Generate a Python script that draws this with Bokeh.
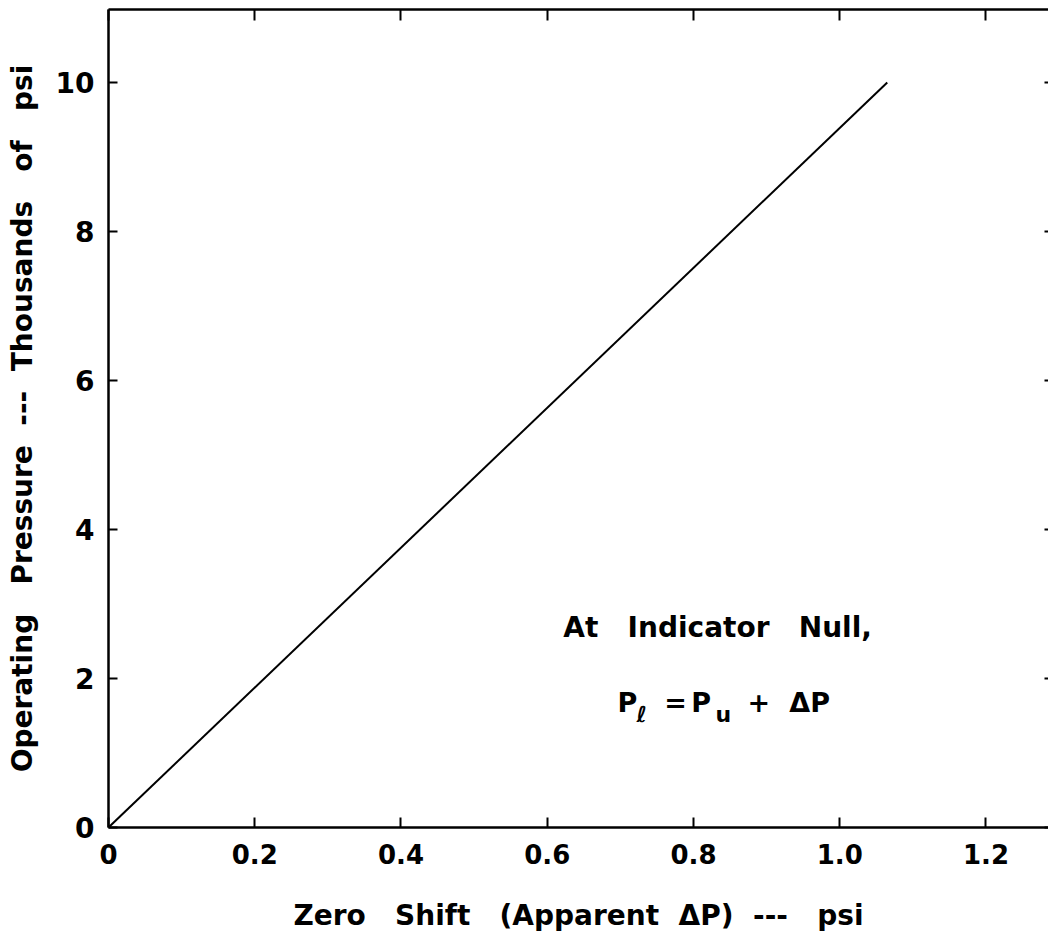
from bokeh.plotting import figure
from bokeh.models import LinearAxis, FixedTicker, Label, Range1d
from bokeh.embed import file_html
from bokeh.resources import INLINE

# Data
zero_shift = [0.0, 1.065]          # psi (apparent delta P)
operating_pressure = [0.0, 10.0]   # thousands of psi

x_ticks = [0.0, 0.2, 0.4, 0.6, 0.8, 1.0, 1.2]
x_tick_labels = ["0", "0.2", "0.4", "0.6", "0.8", "1.0", "1.2"]
y_ticks = [0, 2, 4, 6, 8, 10]
y_tick_labels = ["0", "2", "4", "6", "8", "10"]

FONT = "DejaVu Sans"
S = "\u00a0"  # extra word spacing

p = figure(width=1048, height=940, output_backend="svg", toolbar_location=None,
           x_range=Range1d(0, 1.2855), y_range=Range1d(0, 10.98),
           min_border_left=108, min_border_right=0, min_border_top=9, min_border_bottom=113)
p.outline_line_color = None
p.outline_line_alpha = 0
p.grid.visible = False
p.background_fill_color = "white"
p.border_fill_color = "white"

p.line(zero_shift, operating_pressure, line_color="black", line_width=2)

# bottom axis
xa = p.xaxis[0]
xa.ticker = FixedTicker(ticks=x_ticks)
xa.major_label_overrides = {t: l for t, l in zip(x_ticks, x_tick_labels)}
xa.minor_tick_line_color = None
xa.major_tick_in = 10
xa.major_tick_out = 0
xa.major_tick_line_width = 2
xa.axis_line_width = 2.5
xa.major_label_standoff = 16
xa.major_label_text_font = FONT
xa.major_label_text_font_style = "bold"
xa.major_label_text_font_size = "26px"
xa.major_label_text_color = "black"
xa.axis_label = f"Zero{S}{S} Shift{S}{S} (Apparent{S} ΔP){S} ---{S}{S} psi"
xa.axis_label_text_font = FONT
xa.axis_label_text_font_style = "bold"
xa.axis_label_text_font_size = "28px"
xa.axis_label_standoff = 32
xa.axis_label_text_color = "black"

# left axis
ya = p.yaxis[0]
ya.ticker = FixedTicker(ticks=y_ticks)
ya.major_label_overrides = {t: l for t, l in zip(y_ticks, y_tick_labels)}
ya.minor_tick_line_color = None
ya.major_tick_in = 9
ya.major_tick_out = 0
ya.major_tick_line_width = 2
ya.axis_line_width = 2.5
ya.major_label_standoff = 14
ya.major_label_text_font = FONT
ya.major_label_text_font_style = "bold"
ya.major_label_text_font_size = "28px"
ya.major_label_text_color = "black"
ya.axis_label = f"Operating{S}{S} Pressure{S} ---{S} Thousands{S}{S} of{S}{S} psi"
ya.axis_label_text_font = FONT
ya.axis_label_text_font_style = "bold"
ya.axis_label_text_font_size = "28px"
ya.axis_label_standoff = 14
ya.axis_label_text_color = "black"

# top axis (ticks only)
ta = LinearAxis(ticker=FixedTicker(ticks=x_ticks), major_tick_in=11, major_tick_out=0,
                major_tick_line_width=2, axis_line_width=2.5, minor_tick_line_color=None,
                major_label_text_font_size="0px", major_label_standoff=0)
p.add_layout(ta, "above")

# right axis (ticks only, no line)
ra = LinearAxis(ticker=FixedTicker(ticks=y_ticks), major_tick_in=4, major_tick_out=0,
                major_tick_line_width=2, minor_tick_line_color=None,
                major_label_text_font_size="0px", major_label_standoff=0)
ra.axis_line_color = None
ra.axis_line_alpha = 0
p.add_layout(ra, "right")

# annotation text
def lab(x, y, text, size="27px", align="left"):
    p.add_layout(Label(x=x, y=y, text=text, text_font=FONT, text_font_style="bold",
                       text_font_size=size, text_align=align, text_baseline="middle",
                       text_color="black"))

lab(0.833, 2.685, f"At{S}{S} Indicator{S}{S} Null,", size="28px", align="center")
lab(0.696, 1.678, "P")
lab(0.722, 1.52, "ℓ", size="22px")
lab(0.760, 1.678, "=")
lab(0.797, 1.678, "P")
lab(0.830, 1.52, "u", size="22px")
lab(0.874, 1.678, "+")
lab(0.931, 1.678, "ΔP")

open("out.html", "w").write(file_html(p, INLINE))
